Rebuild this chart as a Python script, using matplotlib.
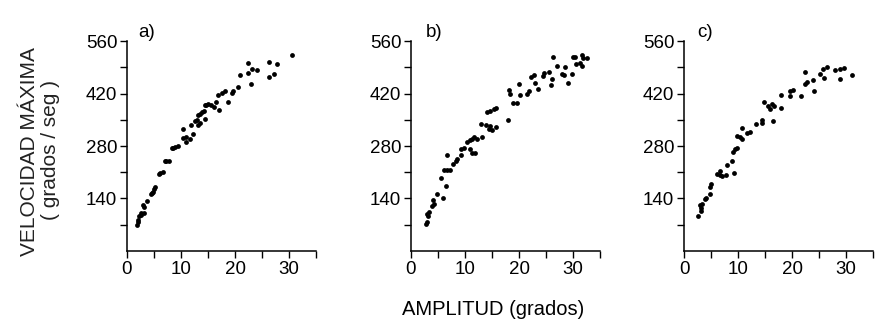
import matplotlib
matplotlib.use("Agg")
import matplotlib.pyplot as plt

plt.rcParams['font.family'] = ['Liberation Sans', 'DejaVu Sans']

# panel a) amplitud (grados) vs velocidad maxima (grados/seg)
amp_a = [1.8, 2.0, 2.1, 2.3, 2.5, 2.6, 3.1, 2.9, 3.2, 3.7, 4.4, 4.6, 4.8, 5.0, 5.2,
         6.0, 6.2, 6.6, 7.0, 7.3, 7.7, 8.3, 8.6, 8.9, 9.5, 10.4, 10.3, 10.9, 11.0,
         11.6, 12.3, 11.9, 12.6, 12.9, 13.2, 13.5, 14.5, 13.2, 13.6, 13.8, 14.2,
         14.4, 14.7, 15.0, 15.6, 16.5, 16.2, 17.0, 16.9, 17.5, 18.1, 18.7, 19.5,
         19.7, 20.6, 21.0, 22.4, 22.4, 23.2, 24.1, 22.9, 26.3, 27.8, 26.2, 27.3, 30.5]
vel_a = [69, 76, 83, 92, 96, 101, 102, 123, 118, 134, 152, 155, 158, 165, 172,
         205, 209, 212, 240, 240, 240, 274, 276, 277, 280, 325, 301, 305, 292,
         298, 313, 337, 346, 350, 337, 342, 352, 363, 366, 370, 374,
         390, 391, 392, 390, 399, 385, 377, 417, 421, 426, 397, 421,
         428, 437, 471, 501, 475, 486, 484, 445, 504, 500, 464, 472, 523]

# panel b)
amp_b = [2.8, 3.0, 2.9, 3.3, 3.2, 3.8, 4.2, 4.0, 4.9, 6.0, 5.5, 6.4, 6.1, 6.7,
         7.3, 7.7, 8.3, 6.7, 8.6, 9.3, 9.2, 9.8, 10.3, 10.9, 11.3, 11.6, 11.0,
         11.3, 11.9, 12.2, 13.2, 12.9, 13.8, 14.6, 14.4, 15.0, 15.8, 14.1, 14.7,
         15.3, 15.8, 17.9, 18.2, 18.4, 18.9, 19.7, 20.2, 20.0, 21.5, 21.9, 22.3,
         22.8, 23.0, 23.5, 24.4, 24.6, 25.6, 26.1, 27.0, 25.9, 26.2, 27.9, 28.3,
         29.1, 28.5, 29.9, 30.0, 30.4, 30.6, 31.2, 31.6, 31.7, 31.8, 32.6]
vel_b = [72, 76, 98, 103, 94, 121, 124, 136, 152, 140, 195, 174, 215, 215,
         216, 232, 240, 257, 246, 255, 273, 276, 291, 295, 299, 303, 273,
         262, 262, 299, 304, 340, 336, 333, 326, 324, 331, 371, 374,
         378, 382, 350, 429, 418, 395, 395, 416, 447, 420, 427, 465,
         469, 449, 433, 467, 474, 478, 460, 493, 444, 519, 472, 469,
         449, 490, 472, 519, 517, 500, 502, 493, 523, 514, 514]

# panel c)
amp_c = [2.6, 3.1, 3.2, 2.9, 3.4, 3.8, 4.0, 4.8, 4.9, 5.0, 6.1, 6.6, 7.0, 7.7,
         6.7, 8.0, 8.9, 9.3, 9.1, 9.5, 9.8, 9.9, 10.3, 10.7, 10.7, 11.6, 12.3,
         13.4, 14.5, 14.4, 14.8, 15.6, 15.9, 16.2, 16.7, 16.4, 17.9, 17.9, 19.7,
         19.7, 20.2, 21.6, 22.4, 22.4, 22.8, 23.9, 24.0, 25.1, 25.7, 26.5, 26.0,
         27.9, 28.9, 29.6, 28.8, 31.1]
vel_c = [93, 106, 114, 122, 126, 138, 140, 151, 172, 178, 205, 203, 200, 202,
         214, 229, 240, 209, 263, 272, 276, 308, 304, 299, 328, 315, 318,
         339, 350, 342, 397, 386, 379, 392, 388, 347, 381, 417, 415,
         428, 431, 413, 477, 446, 452, 457, 428, 473, 485, 491, 463,
         482, 486, 488, 458, 471]

panels = [("a)", amp_a, vel_a, 2.0), ("b)", amp_b, vel_b, 2.8), ("c)", amp_c, vel_c, 2.4)]
lefts = [0.1435, 0.4644, 0.7729]

fig = plt.figure(figsize=(8.85, 3.25), dpi=100)

for (lab, xs, ys, lx), left in zip(panels, lefts):
    ax = fig.add_axes([left, 0.228, 0.2136, 0.645])
    ax.scatter(xs, ys, s=12, color='black', linewidths=0, clip_on=False)
    ax.set_xlim(0, 35)
    ax.set_ylim(0, 560)
    ax.set_xticks([0, 5, 10, 15, 20, 25, 30, 35])
    ax.set_xticklabels(['0', '', '10', '', '20', '', '30', ''])
    ax.set_yticks([70, 140, 210, 280, 350, 420, 490, 560])
    ax.set_yticklabels(['', '140', '', '280', '', '420', '', '560'])
    ax.tick_params(direction='out', length=5, width=1, labelsize=13.5, pad=2)
    for side in ('top', 'right'):
        ax.spines[side].set_visible(False)
    for side in ('left', 'bottom'):
        ax.spines[side].set_linewidth(1.1)
    ax.text(lx, 572, lab, fontsize=13.5, va='baseline', ha='left', clip_on=False)

fig.text(0.0328, 1 - 152 / 325, "VELOCIDAD MÁXIMA", rotation=90,
         fontsize=15, ha='center', va='center', color='#222222')
fig.text(0.0576, 1 - 150 / 325, "( grados / seg )", rotation=90,
         fontsize=15, ha='center', va='center', color='#222222')
fig.text(493 / 885, 1 - 315 / 325, "AMPLITUD (grados)", fontsize=14.5,
         ha='center', va='baseline')

fig.savefig("out.png", dpi=100)
